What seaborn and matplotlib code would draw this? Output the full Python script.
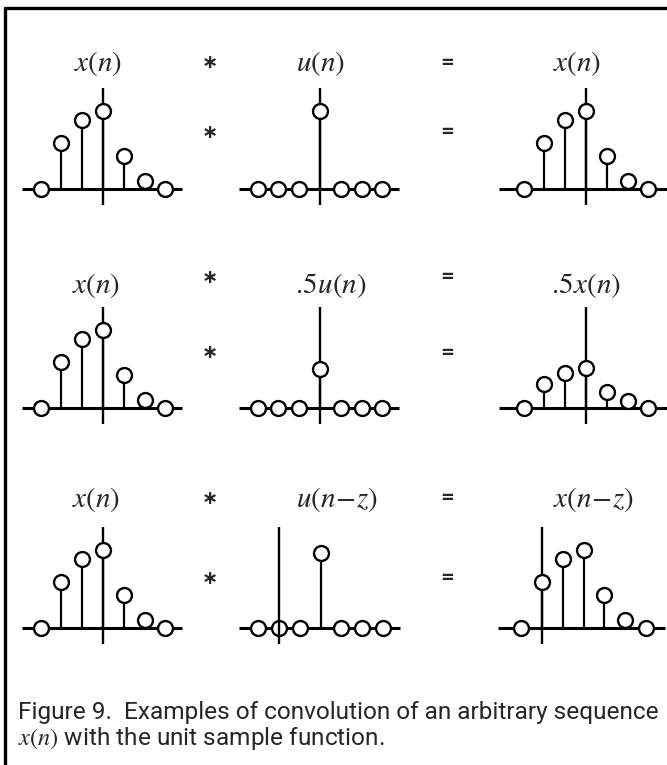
import matplotlib
matplotlib.use("Agg")
import matplotlib.pyplot as plt
from matplotlib.lines import Line2D
import seaborn as sns
import numpy as np

# ---------------- data ----------------
n_centered = [-3, -2, -1, 0, 1, 2, 3]
n_shifted = [-1, 0, 1, 2, 3, 4, 5]
x_vals = [0.0, 0.59, 0.88, 1.0, 0.42, 0.10, 0.0]
u_vals = [0.0, 0.0, 0.0, 1.0, 0.0, 0.0, 0.0]
half_u_vals = [0.0, 0.0, 0.0, 0.5, 0.0, 0.0, 0.0]
half_x_vals = [0.0, 0.31, 0.45, 0.51, 0.21, 0.09, 0.0]
u_shift_vals = [0.0, 0.0, 0.0, 0.96, 0.0, 0.0, 0.0]
x_shift_vals = [0.0, 0.59, 0.88, 1.0, 0.42, 0.10, 0.0]

titles = [["$x(n)$", "$u(n)$", "$x(n)$"],
          ["$x(n)$", "$.\\!5u(n)$", "$.\\!5x(n)$"],
          ["$x(n)$", "$u(n\\!-\\!z)$", "$x(n\\!-\\!z)$"]]
caption1 = "Figure 9.  Examples of convolution of an arbitrary sequence"
caption2 = "$x(n)$ with the unit sample function."

panels = [[(n_centered, x_vals), (n_centered, u_vals), (n_centered, x_vals)],
          [(n_centered, x_vals), (n_centered, half_u_vals), (n_centered, half_x_vals)],
          [(n_centered, x_vals), (n_shifted, u_shift_vals), (n_shifted, x_shift_vals)]]

# ---------------- layout (pixels) ----------------
W, H = 667, 765
SX, SY = 20.8, 78.0
baselines = [189, 408, 628]
origins = [[103, 320, 586], [103, 320, 586], [103, 279, 542]]
hspans = [[(-3.9, 3.8), (-3.9, 3.8), (-4.2, 3.9)],
          [(-3.9, 3.8), (-3.9, 3.8), (-4.2, 3.9)],
          [(-3.9, 3.8), (-1.9, 5.8), (-2.1, 5.9)]]
axis_on_top = [[False, False, False], [False, False, False], [False, True, False]]
title_pos = [[(98, 63), (321, 63), (577, 63)],
             [(96, 285), (331, 285), (586, 285)],
             [(96, 500), (337, 500), (593, 500)]]
op_rows = [(63, 132), (277, 353), (498, 578)]
STAR_X, EQ_X = 210, 447
XL, XR, YB, YT = 5.0, 7.0, 0.45, 1.5

sns.set_theme(style="white")
plt.rcParams["mathtext.fontset"] = "stix"
plt.rcParams["font.family"] = ["DejaVu Sans"]

fig = plt.figure(figsize=(W / 100, H / 100), dpi=100)
fig.patch.set_facecolor("white")


def fx(px):
    return px / W


def fy(py):
    return 1 - py / H


for r in range(3):
    base = baselines[r]
    for c in range(3):
        ox = origins[r][c]
        left = ox - XL * SX
        right = ox + XR * SX
        top = base - YT * SY
        bottom = base + YB * SY
        ax = fig.add_axes([fx(left), fy(bottom), (right - left) / W, (bottom - top) / H])
        ax.patch.set_alpha(0)
        n, v = panels[r][c]
        h0, h1 = hspans[r][c]
        ax.hlines(0, h0, h1, color="black", lw=2.2, zorder=1)
        ax.vlines(0, -0.2, 1.3, color="black", lw=1.7,
                  zorder=4 if axis_on_top[r][c] else 1)
        ax.vlines(n, 0, v, color="black", lw=1.6, zorder=2)
        sns.scatterplot(x=n, y=v, ax=ax, s=115, color="white", edgecolor="black",
                        linewidth=1.7, zorder=3, legend=False)
        ax.set_xlim(-XL, XR)
        ax.set_ylim(-YB, YT)
        ax.axis("off")
        tx, ty = title_pos[r][c]
        fig.text(fx(tx), fy(ty), titles[r][c], fontsize=21, ha="center", va="center")

for (y1, y2) in op_rows:
    for y in (y1, y2):
        fig.text(fx(STAR_X), fy(y), "\u2217", fontsize=14, fontweight="bold",
                 ha="center", va="center")
        fig.text(fx(EQ_X), fy(y), "=", fontsize=12, fontweight="bold",
                 ha="center", va="center")

# frame
fig.add_artist(Line2D([fx(5), fx(5)], [fy(8), fy(765)], color="black", lw=2.4))
fig.add_artist(Line2D([fx(5), fx(667)], [fy(8), fy(8)], color="black", lw=2.4))

cap_family = ["Roboto", "DejaVu Sans"]
t1 = fig.text(fx(18), fy(712), caption1, fontsize=14, family=cap_family,
              ha="left", va="center")
t2 = fig.text(fx(18), fy(739), caption2, fontsize=14, family=cap_family,
              ha="left", va="center")
fig.canvas.draw()
w = t1.get_window_extent().width
scale = 645 / w
t1.set_fontsize(14 * scale)
t2.set_fontsize(14 * scale)

fig.savefig("out.png", dpi=100, facecolor="white")
